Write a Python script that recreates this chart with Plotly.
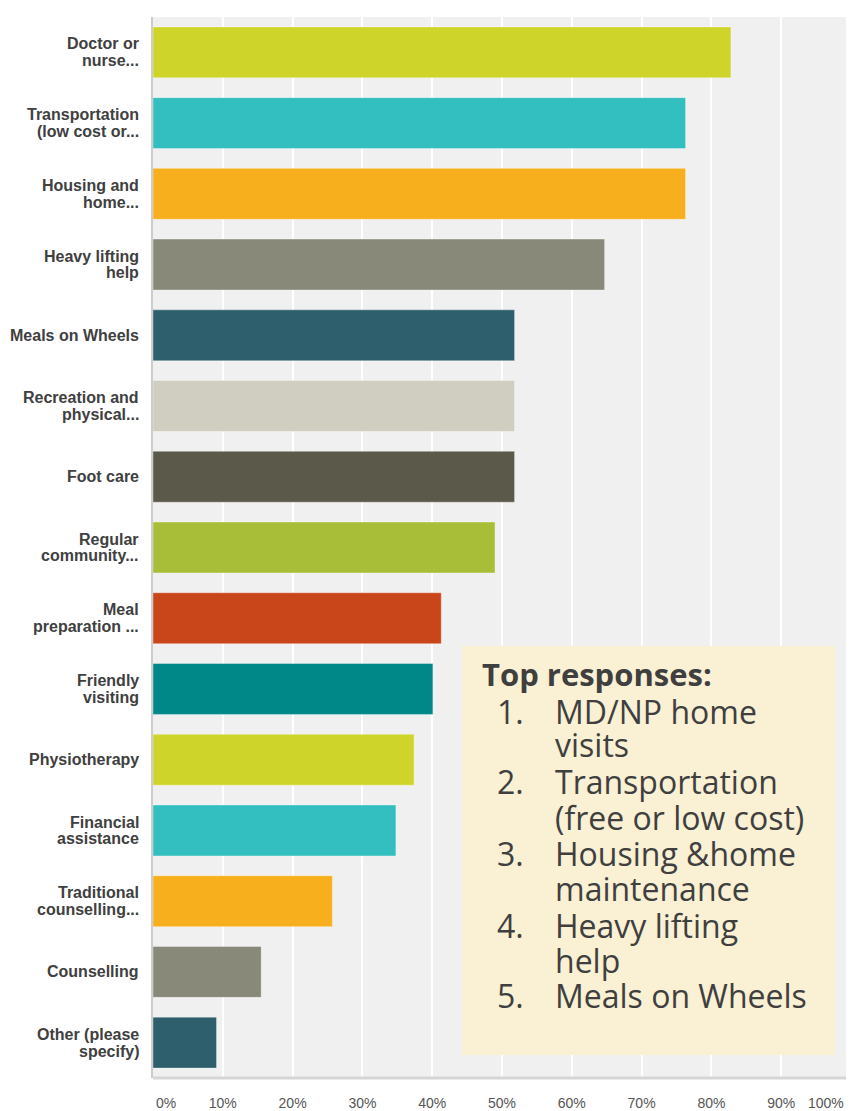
import plotly.graph_objects as go

categories = [
    "Doctor or<br>nurse...",
    "Transportation<br>(low cost or...",
    "Housing and<br>home...",
    "Heavy lifting<br>help",
    "Meals on Wheels",
    "Recreation and<br>physical...",
    "Foot care",
    "Regular<br>community...",
    "Meal<br>preparation ...",
    "Friendly<br>visiting",
    "Physiotherapy",
    "Financial<br>assistance",
    "Traditional<br>counselling...",
    "Counselling",
    "Other (please<br>specify)",
]
values = [82.8, 76.3, 76.3, 64.7, 51.8, 51.8, 51.8, 49.0, 41.3, 40.1, 37.4, 34.8, 25.7, 15.5, 9.1]
colors = ["#cfd42a", "#33bec0", "#f7af1e", "#888978", "#2e5f6c", "#cfcec0", "#5b5a4a",
          "#a9be38", "#c9461b", "#008888", "#cfd42a", "#33bec0", "#f7af1e", "#888978", "#2e5f6c"]
tick_vals = [10, 20, 30, 40, 50, 60, 70, 80, 90]
tick_text = ["10%", "20%", "30%", "40%", "50%", "60%", "70%", "80%", "90%"]
box_title = "Top responses:"
box_numbers = ["1.", "2.", "3.", "4.", "5."]
box_items = [["MD/NP home", "visits"], ["Transportation", "(free or low cost)"],
             ["Housing &home", "maintenance"], ["Heavy lifting", "help"], ["Meals on Wheels"]]

# page offset of the plot (browser body margin) is ~8px
OFF = 8
W, H = 854 - OFF, 1111 - OFF
ml, mr, mt, mb = 145, 3, 9, 33
pw = W - ml - mr
ph = H - mt - mb
X0 = ml + OFF           # screen x of plot left
YB = H - mb + OFF       # screen y of plot bottom

def sx(p):
    return (p - X0) / pw

def sy(p):
    return (YB - p) / ph

fig = go.Figure(go.Bar(
    x=values, y=categories, orientation="h",
    marker=dict(color=colors, line=dict(color="rgba(255,255,255,0.35)", width=1)),
    width=0.72,
))

fig.update_layout(
    width=W, height=H,
    margin=dict(l=ml, r=mr, t=mt, b=mb, autoexpand=False),
    paper_bgcolor="white", plot_bgcolor="#f0f0f0",
    showlegend=False,
    font=dict(family="Liberation Sans, Arial, sans-serif", color="#444"),
)
fig.update_xaxes(
    range=[0, 100], tickvals=tick_vals, ticktext=tick_text,
    showgrid=True, gridcolor="white", gridwidth=2,
    zeroline=False, showline=False, automargin=False,
    tickfont=dict(size=14, color="#555"),
    ticks="outside", ticklen=12, tickcolor="rgba(0,0,0,0)",
)
fig.update_yaxes(
    autorange="reversed", showgrid=False, automargin=False,
    showline=True, linecolor="#cccccc", linewidth=2,
    showticklabels=False,
)

# category labels, one annotation per line for tight line spacing
lab_font = dict(size=16, color="#404040", family="Liberation Sans, Arial, sans-serif", weight="bold")
for cat in categories:
    parts = cat.split("<br>")
    n = len(parts)
    for i, part in enumerate(parts):
        shift = (n - 1) / 2 * 16.8 - i * 16.8
        fig.add_annotation(x=sx(141), y=cat, xref="paper", yref="y", text=part,
                           showarrow=False, xanchor="right", yanchor="middle",
                           yshift=shift, font=lab_font)

# bottom axis line
fig.add_shape(type="line", xref="paper", yref="paper", x0=0, x1=1, y0=0, y1=0,
              line=dict(color="#d6d6d6", width=3))

# end tick labels
fig.add_annotation(x=sx(154), y=sy(1103), xref="paper", yref="paper", text="0%", showarrow=False,
                   xanchor="left", yanchor="middle", font=dict(size=14, color="#555"))
fig.add_annotation(x=sx(846), y=sy(1103), xref="paper", yref="paper", text="100%", showarrow=False,
                   xanchor="right", yanchor="middle", font=dict(size=14, color="#555"))

# text box
fig.add_shape(type="rect", xref="paper", yref="paper",
              x0=sx(462), x1=sx(835), y0=sy(1055), y1=sy(646),
              fillcolor="#faf0d3", line=dict(width=0), layer="above")

bfont = "Open Sans, Noto Sans, sans-serif"
fs = 32
tcol = "#3f3f3f"
fig.add_annotation(x=sx(480), y=sy(682.7 - 9), xref="paper", yref="paper",
                   text="<b>" + box_title + "</b>", showarrow=False,
                   xanchor="left", yanchor="middle",
                   font=dict(size=31, color=tcol, family=bfont))
baselines = [719.3, 752.7, 789, 825, 861, 896.7, 933, 968, 1003]
k = 0
for n, item in zip(box_numbers, box_items):
    for i, line in enumerate(item):
        yb = baselines[k]
        if i == 0:
            fig.add_annotation(x=sx(495), y=sy(yb - 8), xref="paper", yref="paper", text=n,
                               showarrow=False, xanchor="left", yanchor="middle",
                               font=dict(size=fs, color=tcol, family=bfont))
        fig.add_annotation(x=sx(553), y=sy(yb - 8), xref="paper", yref="paper", text=line,
                           showarrow=False, xanchor="left", yanchor="middle",
                           font=dict(size=fs, color=tcol, family=bfont))
        k += 1

fig.write_html("out.html")
